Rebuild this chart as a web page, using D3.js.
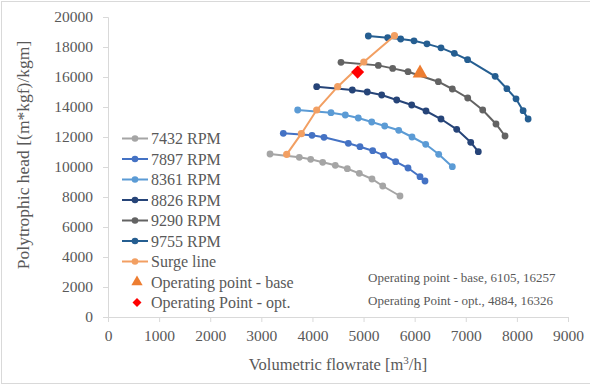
<!DOCTYPE html>
<html>
<head>
<meta charset="utf-8">
<script src="https://cdn.jsdelivr.net/npm/d3@7"></script>
<style>
  html, body { margin: 0; padding: 0; background: #fff; }
  svg text { font-family: "Liberation Serif", "Times New Roman", serif; fill: #595959; }
</style>
</head>
<body>
<svg id="chart" width="590" height="386"></svg>
<script>
// Compressor map: polytropic head vs volumetric flow for each speed line
const speedNames = ["7432 RPM", "7897 RPM", "8361 RPM", "8826 RPM", "9290 RPM", "9755 RPM"];
const speedColors = ["#a5a5a5", "#4472c4", "#5b9bd5", "#264478", "#636363", "#255e91"];

const flow7432 = [3170, 3743, 3966, 4201, 4447, 4682, 4917, 5165, 5375, 5713];
const head7432 = [10867, 10647, 10513, 10313, 10113, 9887, 9580, 9200, 8733, 8067];

const flow7897 = [3430, 3991, 4226, 4702, 4930, 5179, 5394, 5629, 5870, 6105, 6202];
const head7897 = [12247, 12113, 11980, 11580, 11353, 11087, 10780, 10353, 9933, 9353, 9067];

const flow8361 = [3711, 4363, 4643, 4897, 5160, 5414, 5688, 5948, 6216, 6470, 6737];
const head8361 = [13800, 13620, 13467, 13267, 13000, 12733, 12447, 12000, 11513, 10847, 10020];

const flow8826 = [4083, 4780, 5073, 5355, 5649, 5942, 6222, 6515, 6823, 7097, 7245];
const head8826 = [15353, 15133, 15000, 14800, 14467, 14133, 13733, 13200, 12513, 11647, 11020];

const flow9290 = [4559, 5289, 5570, 5870, 6463, 6737, 7038, 7331, 7591, 7768];
const head9290 = [16980, 16775, 16575, 16353, 15687, 15200, 14600, 13800, 12867, 12067];

const flow9755 = [5093, 5472, 5726, 5987, 6240, 6515, 6776, 7035, 7575, 7805, 7983, 8122, 8220];
const head9755 = [18733, 18622, 18533, 18410, 18210, 17943, 17578, 17155, 16045, 15220, 14545, 13755, 13200];

const surgeFlow = [3496, 3783, 4083, 4494, 5005, 5605];
const surgeHead = [10847, 12220, 13800, 15353, 17000, 18753];

const baseFlow = [6105], baseHead = [16257];
const optFlow = [4884], optHead = [16326];

const xTicks = [0, 1000, 2000, 3000, 4000, 5000, 6000, 7000, 8000, 9000];
const yTicks = [0, 2000, 4000, 6000, 8000, 10000, 12000, 14000, 16000, 18000, 20000];

const speedFlows = [flow7432, flow7897, flow8361, flow8826, flow9290, flow9755];
const speedHeads = [head7432, head7897, head8361, head8826, head9290, head9755];

const surgeColor = "#f29f62";
const baseColor = "#ed7d31";
const optColor = "#ff0000";
const axisColor = "#d9d9d9";

const svg = d3.select("#chart");

// chart-area border
svg.append("rect")
  .attr("x", 1.5).attr("y", 1.5).attr("width", 600).attr("height", 382)
  .attr("fill", "none").attr("stroke", axisColor).attr("stroke-width", 1);

const x = d3.scaleLinear().domain([0, 9000]).range([108, 568]);
const y = d3.scaleLinear().domain([0, 20000]).range([317, 17]);

// axes
const xAxis = svg.append("g").attr("transform", "translate(0,317)")
  .call(d3.axisBottom(x).tickValues(xTicks).tickSize(5).tickPadding(8).tickFormat(d3.format("d")));
const yAxis = svg.append("g").attr("transform", "translate(108,0)")
  .call(d3.axisLeft(y).tickValues(yTicks).tickSize(5).tickPadding(10).tickFormat(d3.format("d")));
[xAxis, yAxis].forEach(a => {
  a.selectAll("path").attr("stroke", axisColor).attr("stroke-width", 1);
  a.selectAll("line").attr("stroke", axisColor).attr("stroke-width", 1);
  a.selectAll("text").style("font-size", "15.5px").style("fill", "#595959")
    .style("font-family", '"Liberation Serif", serif');
});
xAxis.selectAll("text").attr("dy", "0.71em");

// axis titles
svg.append("text")
  .attr("x", 338).attr("y", 370).attr("text-anchor", "middle")
  .style("font-size", "16.5px")
  .html('Volumetric flowrate [m<tspan dy="-6" font-size="11px">3</tspan><tspan dy="6">/h]</tspan>');

svg.append("text")
  .attr("transform", "translate(29,155) rotate(-90)")
  .attr("text-anchor", "middle")
  .style("font-size", "17.5px")
  .text("Polytrophic head [(m*kgf)/kgm]");

const line = d3.line().x(d => x(d[0])).y(d => y(d[1]));
const plot = svg.append("g");

// speed lines
speedNames.forEach((name, i) => {
  const pts = speedFlows[i].map((f, j) => [f, speedHeads[i][j]]);
  plot.append("path").datum(pts).attr("d", line)
    .attr("fill", "none").attr("stroke", speedColors[i]).attr("stroke-width", 2);
  plot.selectAll(null).data(pts).enter().append("circle")
    .attr("cx", d => x(d[0])).attr("cy", d => y(d[1])).attr("r", 3.4)
    .attr("fill", speedColors[i]);
});

// surge line
const surgePts = surgeFlow.map((f, j) => [f, surgeHead[j]]);
plot.append("path").datum(surgePts).attr("d", line)
  .attr("fill", "none").attr("stroke", surgeColor).attr("stroke-width", 2);
plot.selectAll(null).data(surgePts).enter().append("circle")
  .attr("cx", d => x(d[0])).attr("cy", d => y(d[1])).attr("r", 3.6)
  .attr("fill", surgeColor);

// operating points
const tri = d3.symbol().type(d3.symbolTriangle).size(95);
const dia = d3.symbol().type(d3.symbolSquare).size(85);
plot.selectAll(null).data(baseFlow.map((f, j) => [f, baseHead[j]])).enter().append("path")
  .attr("d", tri).attr("transform", d => `translate(${x(d[0])},${y(d[1])})`)
  .attr("fill", baseColor);
plot.selectAll(null).data(optFlow.map((f, j) => [f, optHead[j]])).enter().append("path")
  .attr("d", dia).attr("transform", d => `translate(${x(d[0])},${y(d[1])}) rotate(45)`)
  .attr("fill", optColor);

// legend
const legend = svg.append("g");
const rowY = i => 138.5 + i * 20.5;
speedNames.concat(["Surge line"]).forEach((name, i) => {
  const c = i < speedNames.length ? speedColors[i] : surgeColor;
  const g = legend.append("g").attr("transform", `translate(0,${rowY(i)})`);
  g.append("line").attr("x1", 122).attr("x2", 148).attr("y1", 0).attr("y2", 0)
    .attr("stroke", c).attr("stroke-width", 2);
  g.append("circle").attr("cx", 135).attr("cy", 0).attr("r", 3.3).attr("fill", c);
  g.append("text").attr("x", 151).attr("y", 5.5).style("font-size", "16px").text(name);
});
const gb = legend.append("g").attr("transform", `translate(0,${rowY(7)})`);
gb.append("path").attr("d", d3.symbol().type(d3.symbolTriangle).size(55))
  .attr("transform", "translate(137,0)").attr("fill", baseColor);
gb.append("text").attr("x", 151).attr("y", 5.5).style("font-size", "16px").text("Operating point - base");
const go = legend.append("g").attr("transform", `translate(0,${rowY(8)})`);
go.append("path").attr("d", d3.symbol().type(d3.symbolSquare).size(40))
  .attr("transform", "translate(137,0) rotate(45)").attr("fill", optColor);
go.append("text").attr("x", 151).attr("y", 5.5).style("font-size", "16px").text("Operating Point - opt.");

// value notes for the two operating points
svg.append("text").attr("x", 368).attr("y", 281.5).style("font-size", "13px")
  .text(`Operating point - base, ${baseFlow[0]}, ${baseHead[0]}`);
svg.append("text").attr("x", 368).attr("y", 304.5).style("font-size", "13px")
  .text(`Operating Point - opt., ${optFlow[0]}, ${optHead[0]}`);
</script>
</body>
</html>
